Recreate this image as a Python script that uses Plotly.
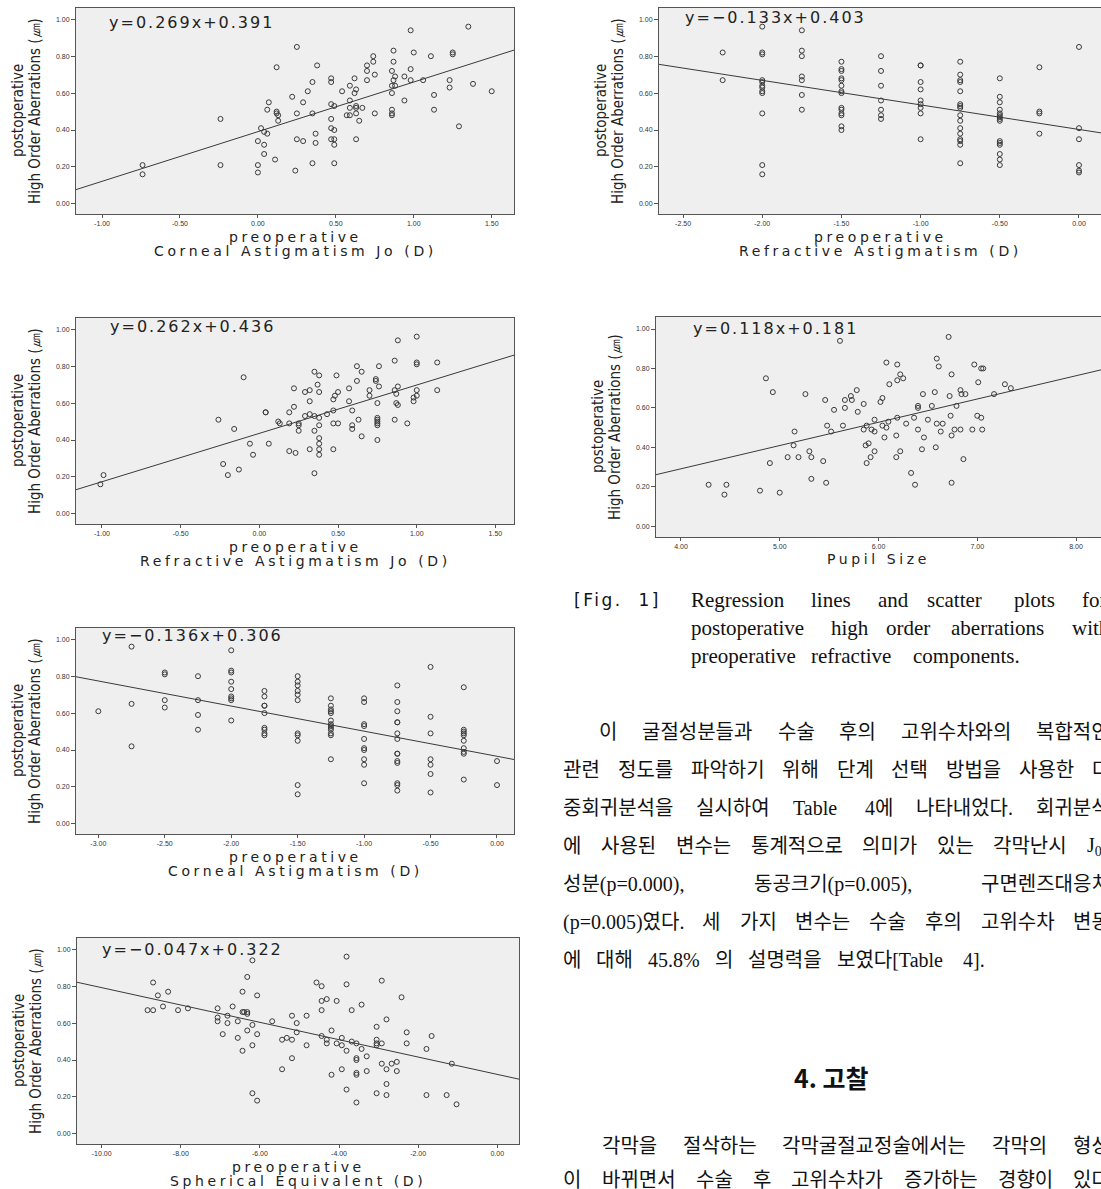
import plotly.graph_objects as go

W, H = 1101, 1189

# ---------------- data ----------------
# Plot 1: preoperative Corneal Astigmatism Jo (D)
p1_x = [-0.74, -0.74, -0.24, -0.24, 0.00, 0.00, 0.00, 0.02,
        0.04, 0.06, 0.04, 0.04, 0.11, 0.07, 0.06, 0.12,
        0.12, 0.13, 0.13, 0.12, 0.22, 0.25, 0.25, 0.25,
        0.24, 0.29, 0.29, 0.32, 0.35, 0.35, 0.35, 0.38,
        0.37, 0.37, 0.47, 0.47, 0.47, 0.49, 0.47, 0.47,
        0.49, 0.47, 0.49, 0.49, 0.49, 0.54, 0.59, 0.59,
        0.59, 0.57, 0.59, 0.62, 0.62, 0.63, 0.63, 0.63,
        0.63, 0.65, 0.67, 0.63, 0.70, 0.70, 0.70, 0.74,
        0.74, 0.75, 0.75, 0.87, 0.87, 0.86, 0.88, 0.87,
        0.86, 0.88, 0.86, 0.86, 0.86, 0.86, 0.94, 0.94,
        0.98, 0.98, 0.98, 1.00, 1.06, 1.11, 1.13, 1.13,
        1.23, 1.23, 1.25, 1.25, 1.29, 1.35, 1.38, 1.50]
p1_y = [0.21, 0.16, 0.46, 0.21, 0.21, 0.17, 0.34, 0.41,
        0.39, 0.38, 0.32, 0.27, 0.24, 0.55, 0.51, 0.50,
        0.49, 0.48, 0.45, 0.74, 0.58, 0.85, 0.49, 0.35,
        0.18, 0.55, 0.34, 0.61, 0.66, 0.49, 0.22, 0.75,
        0.38, 0.33, 0.68, 0.66, 0.54, 0.53, 0.46, 0.41,
        0.40, 0.35, 0.35, 0.32, 0.22, 0.61, 0.64, 0.56,
        0.52, 0.48, 0.48, 0.68, 0.60, 0.62, 0.53, 0.52,
        0.49, 0.45, 0.52, 0.35, 0.75, 0.72, 0.67, 0.80,
        0.77, 0.70, 0.49, 0.83, 0.77, 0.72, 0.69, 0.67,
        0.64, 0.64, 0.60, 0.51, 0.49, 0.48, 0.69, 0.56,
        0.94, 0.73, 0.67, 0.82, 0.67, 0.80, 0.59, 0.51,
        0.67, 0.63, 0.82, 0.81, 0.42, 0.96, 0.65, 0.61]

# Plot 2: preoperative Refractive Astigmatism (D)
p2_x = [-2.25, -2.25,
        -2.00, -2.00, -2.00, -2.00, -2.00, -2.00, -2.00, -2.00, -2.00, -2.00, -2.00, -2.00,
        -1.75, -1.75, -1.75, -1.75, -1.75, -1.75, -1.75,
        -1.50, -1.50, -1.50, -1.50, -1.50, -1.50, -1.50, -1.50, -1.50, -1.50, -1.50, -1.50, -1.50, -1.50,
        -1.25, -1.25, -1.25, -1.25, -1.25, -1.25, -1.25,
        -1.00, -1.00, -1.00, -1.00, -1.00, -1.00, -1.00, -1.00, -1.00,
        -0.75, -0.75, -0.75, -0.75, -0.75, -0.75, -0.75, -0.75, -0.75, -0.75, -0.75, -0.75, -0.75, -0.75, -0.75, -0.75,
        -0.50, -0.50, -0.50, -0.50, -0.50, -0.50, -0.50, -0.50, -0.50, -0.50, -0.50, -0.50, -0.50, -0.50, -0.50,
        -0.25, -0.25, -0.25, -0.25,
        0.00, 0.00, 0.00, 0.00, 0.00, 0.00]
p2_y = [0.82, 0.67,
        0.96, 0.82, 0.81, 0.67, 0.66, 0.64, 0.63, 0.61, 0.60, 0.49, 0.21, 0.16,
        0.94, 0.83, 0.80, 0.69, 0.67, 0.59, 0.51,
        0.77, 0.73, 0.72, 0.68, 0.67, 0.64, 0.61, 0.60, 0.52, 0.51, 0.49, 0.48, 0.42, 0.40,
        0.80, 0.72, 0.64, 0.56, 0.51, 0.48, 0.46,
        0.75, 0.75, 0.66, 0.62, 0.56, 0.54, 0.52, 0.49, 0.35,
        0.77, 0.70, 0.67, 0.66, 0.61, 0.54, 0.53, 0.52, 0.48, 0.45, 0.41, 0.38, 0.35, 0.34, 0.32, 0.22,
        0.68, 0.58, 0.55, 0.51, 0.49, 0.48, 0.47, 0.46, 0.45, 0.34, 0.33, 0.32, 0.27, 0.24, 0.21,
        0.74, 0.50, 0.49, 0.38,
        0.85, 0.41, 0.35, 0.21, 0.18, 0.17]

# Plot 3: preoperative Refractive Astigmatism Jo (D)
p3_x = [-1.01, -0.99, -0.26, -0.16, -0.23, -0.20, -0.13, -0.10,
        -0.06, -0.04, 0.04, 0.04, 0.06, 0.12, 0.13, 0.19,
        0.19, 0.19, 0.22, 0.22, 0.23, 0.25, 0.25, 0.25,
        0.29, 0.29, 0.32, 0.32, 0.32, 0.32, 0.35, 0.35,
        0.35, 0.35, 0.37, 0.38, 0.38, 0.38, 0.38, 0.38,
        0.38, 0.38, 0.38, 0.43, 0.47, 0.47, 0.48, 0.47,
        0.47, 0.49, 0.50, 0.50, 0.57, 0.57, 0.59, 0.59,
        0.59, 0.62, 0.62, 0.63, 0.65, 0.65, 0.70, 0.70,
        0.74, 0.74, 0.75, 0.75, 0.75, 0.75, 0.75, 0.75,
        0.75, 0.76, 0.76, 0.86, 0.86, 0.86, 0.87, 0.87,
        0.88, 0.88, 0.88, 0.94, 0.98, 0.98, 1.00, 1.00,
        1.00, 1.00, 1.00, 1.13, 1.13]
p3_y = [0.16, 0.21, 0.51, 0.46, 0.27, 0.21, 0.24, 0.74,
        0.38, 0.32, 0.55, 0.55, 0.38, 0.50, 0.49, 0.55,
        0.49, 0.34, 0.68, 0.58, 0.33, 0.49, 0.48, 0.45,
        0.66, 0.53, 0.67, 0.61, 0.54, 0.35, 0.77, 0.53,
        0.45, 0.22, 0.70, 0.75, 0.66, 0.52, 0.48, 0.41,
        0.38, 0.35, 0.32, 0.54, 0.62, 0.35, 0.64, 0.49,
        0.56, 0.75, 0.66, 0.49, 0.68, 0.61, 0.56, 0.48,
        0.46, 0.80, 0.72, 0.51, 0.77, 0.42, 0.67, 0.64,
        0.73, 0.72, 0.52, 0.51, 0.50, 0.49, 0.48, 0.60,
        0.40, 0.80, 0.69, 0.83, 0.67, 0.51, 0.65, 0.60,
        0.94, 0.69, 0.59, 0.49, 0.63, 0.61, 0.96, 0.82,
        0.81, 0.67, 0.64, 0.82, 0.67]

# Plot 4: Pupil Size
p4_x = [4.28, 4.44, 4.46, 4.80, 4.86, 4.90, 4.93, 5.00, 5.08, 5.14,
        5.15, 5.19, 5.26, 5.30, 5.32, 5.32, 5.44, 5.46, 5.47, 5.48,
        5.52, 5.55, 5.61, 5.64, 5.66, 5.66, 5.72, 5.73, 5.78, 5.79,
        5.85, 5.85, 5.87, 5.88, 5.88, 5.90, 5.92, 5.93, 5.96, 5.96,
        5.96, 6.02, 6.04, 6.04, 6.06, 6.08, 6.08, 6.10, 6.11, 6.18,
        6.18, 6.19, 6.19, 6.19, 6.22, 6.22, 6.25, 6.28, 6.33, 6.36,
        6.37, 6.40, 6.40, 6.40, 6.44, 6.45, 6.46, 6.50, 6.54, 6.57,
        6.58, 6.59, 6.59, 6.61, 6.63, 6.65, 6.71, 6.72, 6.73, 6.74,
        6.74, 6.74, 6.77, 6.79, 6.83, 6.83, 6.84, 6.86, 6.88, 6.95,
        6.97, 7.00, 7.01, 7.04, 7.04, 7.06, 7.05, 7.17, 7.28, 7.34]
p4_y = [0.21, 0.16, 0.21, 0.18, 0.75, 0.32, 0.68, 0.17, 0.35, 0.41,
        0.48, 0.35, 0.67, 0.38, 0.35, 0.24, 0.33, 0.64, 0.22, 0.51,
        0.48, 0.59, 0.94, 0.51, 0.64, 0.60, 0.66, 0.64, 0.69, 0.58,
        0.62, 0.49, 0.41, 0.51, 0.32, 0.42, 0.35, 0.49, 0.54, 0.48,
        0.38, 0.63, 0.65, 0.51, 0.45, 0.83, 0.50, 0.53, 0.72, 0.46,
        0.35, 0.82, 0.74, 0.55, 0.77, 0.38, 0.75, 0.52, 0.27, 0.55,
        0.21, 0.61, 0.60, 0.49, 0.39, 0.67, 0.45, 0.54, 0.61, 0.68,
        0.40, 0.85, 0.52, 0.81, 0.48, 0.52, 0.96, 0.66, 0.56, 0.46,
        0.22, 0.77, 0.49, 0.61, 0.69, 0.49, 0.67, 0.34, 0.67, 0.49,
        0.82, 0.56, 0.73, 0.55, 0.80, 0.80, 0.49, 0.67, 0.72, 0.70]

# Plot 5: preoperative Corneal Astigmatism (D)
p5_x = [-3.00,
        -2.75, -2.75, -2.75,
        -2.50, -2.50, -2.50, -2.50,
        -2.25, -2.25, -2.25, -2.25,
        -2.00, -2.00, -2.00, -2.00, -2.00, -2.00, -2.00, -2.00, -2.00,
        -1.75, -1.75, -1.75, -1.75, -1.75, -1.75, -1.75, -1.75, -1.75,
        -1.50, -1.50, -1.50, -1.50, -1.50, -1.50, -1.50, -1.50, -1.50, -1.50, -1.50,
        -1.25, -1.25, -1.25, -1.25, -1.25, -1.25, -1.25, -1.25, -1.25, -1.25, -1.25, -1.25, -1.25,
        -1.00, -1.00, -1.00, -1.00, -1.00, -1.00, -1.00, -1.00, -1.00, -1.00,
        -0.75, -0.75, -0.75, -0.75, -0.75, -0.75, -0.75, -0.75, -0.75, -0.75, -0.75, -0.75, -0.75, -0.75,
        -0.50, -0.50, -0.50, -0.50, -0.50, -0.50, -0.50,
        -0.25, -0.25, -0.25, -0.25, -0.25, -0.25, -0.25, -0.25, -0.25, -0.25,
        0.00, 0.00]
p5_y = [0.61,
        0.96, 0.65, 0.42,
        0.82, 0.81, 0.67, 0.63,
        0.80, 0.67, 0.59, 0.51,
        0.94, 0.83, 0.82, 0.77, 0.73, 0.69, 0.68, 0.67, 0.56,
        0.72, 0.69, 0.64, 0.64, 0.60, 0.52, 0.51, 0.49, 0.48,
        0.80, 0.77, 0.75, 0.72, 0.70, 0.67, 0.49, 0.48, 0.45, 0.21, 0.16,
        0.68, 0.64, 0.62, 0.61, 0.60, 0.56, 0.54, 0.53, 0.52, 0.51, 0.49, 0.48, 0.35,
        0.68, 0.66, 0.54, 0.53, 0.46, 0.41, 0.40, 0.35, 0.32, 0.22,
        0.75, 0.66, 0.61, 0.55, 0.55, 0.49, 0.46, 0.38, 0.38, 0.34, 0.33, 0.22, 0.21, 0.18,
        0.85, 0.58, 0.49, 0.35, 0.32, 0.27, 0.17,
        0.74, 0.51, 0.50, 0.49, 0.48, 0.45, 0.41, 0.39, 0.38, 0.24,
        0.34, 0.21]

# Plot 6: preoperative Spherical Equivalent (D)
p6_x = [-8.84, -8.70, -8.70, -8.58, -8.45, -8.32, -8.07, -7.82, -7.07, -7.07,
        -7.07, -6.94, -6.82, -6.82, -6.69, -6.56, -6.56, -6.44, -6.44, -6.44,
        -6.40, -6.32, -6.32, -6.32, -6.32, -6.19, -6.19, -6.19, -6.19, -6.07,
        -6.07, -6.07, -5.69, -5.44, -5.44, -5.32, -5.19, -5.19, -5.19, -5.07,
        -5.07, -4.82, -4.82, -4.57, -4.44, -4.44, -4.44, -4.44, -4.31, -4.31,
        -4.31, -4.19, -4.19, -4.06, -4.06, -3.93, -3.93, -3.93, -3.81, -3.81,
        -3.81, -3.81, -3.68, -3.68, -3.56, -3.56, -3.56, -3.56, -3.56, -3.56,
        -3.43, -3.43, -3.30, -3.30, -3.05, -3.05, -3.05, -3.05, -3.05, -2.92,
        -2.92, -2.92, -2.80, -2.80, -2.80, -2.80, -2.67, -2.54, -2.54, -2.42,
        -2.29, -2.29, -1.79, -1.79, -1.66, -1.28, -1.15, -1.03]
p6_y = [0.67, 0.67, 0.82, 0.75, 0.69, 0.77, 0.67, 0.68, 0.68, 0.63,
        0.61, 0.54, 0.64, 0.60, 0.69, 0.61, 0.52, 0.77, 0.66, 0.45,
        0.66, 0.85, 0.66, 0.65, 0.56, 0.94, 0.59, 0.48, 0.22, 0.75,
        0.54, 0.18, 0.61, 0.35, 0.51, 0.52, 0.64, 0.51, 0.41, 0.55,
        0.60, 0.64, 0.48, 0.82, 0.80, 0.72, 0.67, 0.53, 0.73, 0.51,
        0.49, 0.32, 0.56, 0.72, 0.49, 0.48, 0.52, 0.35, 0.96, 0.81,
        0.45, 0.24, 0.67, 0.50, 0.49, 0.41, 0.40, 0.33, 0.32, 0.17,
        0.70, 0.46, 0.42, 0.34, 0.58, 0.51, 0.49, 0.48, 0.22, 0.83,
        0.49, 0.38, 0.62, 0.35, 0.27, 0.21, 0.38, 0.39, 0.34, 0.74,
        0.55, 0.49, 0.46, 0.21, 0.53, 0.21, 0.38, 0.16]

# regression lines as drawn (slope, intercept) and the printed equations
fit_slope = [0.269, -0.133, 0.262, 0.118, -0.136, -0.047]
fit_icept = [0.391, 0.403, 0.436, -0.181, 0.366, 0.322]
eq_text = ["y=0.269x+0.391", "y=\u22120.133x+0.403", "y=0.262x+0.436",
           "y=0.118x+0.181", "y=\u22120.136x+0.306", "y=\u22120.047x+0.322"]

x_title1 = ["preoperative", "preoperative", "preoperative", None, "preoperative", "preoperative"]
x_title2 = ["Corneal Astigmatism Jo (D)", "Refractive Astigmatism (D)",
            "Refractive Astigmatism Jo (D)", "Pupil Size",
            "Corneal Astigmatism (D)", "Spherical Equivalent (D)"]
y_title1 = "postoperative"
y_title2 = "High Order Aberrations (\u339b)"

x_ticks = [[-1.0, -0.5, 0.0, 0.5, 1.0, 1.5],
           [-2.5, -2.0, -1.5, -1.0, -0.5, 0.0],
           [-1.0, -0.5, 0.0, 0.5, 1.0, 1.5],
           [4.0, 5.0, 6.0, 7.0, 8.0],
           [-3.0, -2.5, -2.0, -1.5, -1.0, -0.5, 0.0],
           [-10.0, -8.0, -6.0, -4.0, -2.0, 0.0]]
y_ticks = [0.0, 0.2, 0.4, 0.6, 0.8, 1.0]

xs = [p1_x, p2_x, p3_x, p4_x, p5_x, p6_x]
ys = [p1_y, p2_y, p3_y, p4_y, p5_y, p6_y]

# ---------------- layout geometry (pixels) ----------------
geo = [dict(L=76, R=514, T=8, B=214),
       dict(L=659, R=1101, T=8, B=214),
       dict(L=76, R=514, T=318, B=524),
       dict(L=656, R=1101, T=317, B=537),
       dict(L=76, R=514, T=628, B=834),
       dict(L=77, R=519, T=938, B=1144)]
x_ranges = [[-1.167, 1.643], [-2.652, 0.139], [-1.165, 1.618],
            [3.747, 8.253], [-3.168, 0.128], [-10.624, 0.549]]
y_range = [-0.055, 1.061]
eq_off = [(31, 14), (24, 10), (32, 8), (35, 11), (24, 8), (23, 11)]


def px(x):
    return x / W


def py(y):
    return 1 - y / H


def spaced(s, ls):
    return '<span style="letter-spacing:%.1fpx">%s</span>' % (ls, s)


fig = go.Figure()
annotations = []
TICKFONT = dict(family="Liberation Sans, Arial, sans-serif", size=7, color="#333333")
NARROW = "Liberation Sans Narrow, DejaVu Sans Condensed, Arial Narrow, sans-serif"
WIDE = "DejaVu Sans, Verdana, sans-serif"

layout_axes = {}
for i in range(6):
    n = "" if i == 0 else str(i + 1)
    xa, ya = "x" + n, "y" + n
    g = geo[i]
    xr = x_ranges[i]
    fig.add_trace(go.Scatter(
        x=xs[i], y=ys[i], mode="markers", xaxis=xa, yaxis=ya,
        marker=dict(symbol="circle-open", size=5, color="#3a3a3a", line=dict(width=1)),
        showlegend=False, hoverinfo="skip"))
    lx = [xr[0], xr[1]]
    ly = [fit_slope[i] * v + fit_icept[i] for v in lx]
    fig.add_trace(go.Scatter(
        x=lx, y=ly, mode="lines", xaxis=xa, yaxis=ya,
        line=dict(color="#3a3a3a", width=1), showlegend=False, hoverinfo="skip"))

    layout_axes["xaxis" + n] = dict(
        domain=[px(g["L"]), px(g["R"])], range=xr, anchor=ya,
        tickvals=x_ticks[i], ticktext=["%.2f" % v for v in x_ticks[i]],
        ticks="outside", ticklen=3, tickcolor="#555", tickwidth=1,
        showline=True, linecolor="#555", linewidth=1, mirror=True,
        showgrid=False, zeroline=False, tickfont=TICKFONT)
    layout_axes["yaxis" + n] = dict(
        domain=[py(g["B"]), py(g["T"])], range=y_range, anchor=xa,
        tickvals=y_ticks, ticktext=["%.2f" % v for v in y_ticks],
        ticks="outside", ticklen=4, tickcolor="#555", tickwidth=1,
        showline=True, linecolor="#555", linewidth=1, mirror=True,
        showgrid=False, zeroline=False, tickfont=TICKFONT)

    cx = (g["L"] + g["R"]) / 2
    cy = (g["T"] + g["B"]) / 2
    # x-axis titles
    if x_title1[i]:
        annotations.append(dict(x=px(cx), y=py(g["B"] + 22.5), xref="paper", yref="paper",
                                text=spaced(x_title1[i], 3.6), showarrow=False,
                                xanchor="center", yanchor="middle",
                                font=dict(family=WIDE, size=14, color="#222")))
        annotations.append(dict(x=px(cx), y=py(g["B"] + 37), xref="paper", yref="paper",
                                text=spaced(x_title2[i], 3.6), showarrow=False,
                                xanchor="center", yanchor="middle",
                                font=dict(family=WIDE, size=14, color="#222")))
    else:
        annotations.append(dict(x=px(cx), y=py(g["B"] + 22), xref="paper", yref="paper",
                                text=spaced(x_title2[i], 3.6), showarrow=False,
                                xanchor="center", yanchor="middle",
                                font=dict(family=WIDE, size=14, color="#222")))
    # y-axis titles
    annotations.append(dict(x=px(g["L"] - 58), y=py(cy), xref="paper", yref="paper",
                            text=y_title1, showarrow=False, textangle=-90,
                            xanchor="center", yanchor="middle",
                            font=dict(family=NARROW, size=15, color="#222")))
    annotations.append(dict(x=px(g["L"] - 41), y=py(cy), xref="paper", yref="paper",
                            text=y_title2, showarrow=False, textangle=-90,
                            xanchor="center", yanchor="middle",
                            font=dict(family=NARROW, size=15, color="#222")))
    # equation
    dx, dy = eq_off[i]
    annotations.append(dict(x=px(g["L"] + dx), y=py(g["T"] + dy), xref="paper", yref="paper",
                            text=spaced(eq_text[i], 2.0), showarrow=False,
                            xanchor="left", yanchor="middle",
                            font=dict(family=WIDE, size=16, color="#222")))

# ---------------- right-hand text column ----------------
SERIF_KR = "Liberation Serif, Noto Sans CJK KR, serif"


def est_width(s, size):
    import re
    s = re.sub(r"<[^>]+>", "", s)
    w = 0.0
    for ch in s:
        if "\uac00" <= ch <= "\ud7a3":
            w += 0.92
        elif ch == " ":
            w += 0.25
        elif ch in ".,:;":
            w += 0.25
        elif ch in "()[]":
            w += 0.333
        elif ch == "%":
            w += 0.833
        elif ch == "=":
            w += 0.564
        elif ch.isdigit():
            w += 0.5
        elif ch.isupper():
            w += 0.67
        else:
            w += 0.45
    return w * size


def place_line(text, x0, x1, yc, size, family, justify=True, gap_nat=10):
    words = text.split(" ")
    widths = [est_width(w, size) for w in words]
    if justify and len(words) > 1:
        gap = (x1 - x0 - sum(widths)) / (len(words) - 1)
    else:
        gap = gap_nat
    x = x0
    for w, wd in zip(words, widths):
        annotations.append(dict(x=px(x), y=py(yc), xref="paper", yref="paper", text=w,
                                showarrow=False, xanchor="left", yanchor="middle",
                                font=dict(family=family, size=size, color="#111")))
        x += wd + gap


caption_label = "[Fig.  1]"
caption_lines = ["Regression lines and scatter plots for",
                 "postoperative high order aberrations with",
                 "preoperative refractive components."]
para1 = ["이 굴절성분들과 수술 후의 고위수차와의 복합적인",
         "관련 정도를 파악하기 위해 단계 선택 방법을 사용한 다",
         "중회귀분석을 실시하여 Table 4에 나타내었다. 회귀분석",
         "에 사용된 변수는 통계적으로 의미가 있는 각막난시 J<sub>0</sub>",
         "성분(p=0.000), 동공크기(p=0.005), 구면렌즈대응치",
         "(p=0.005)였다. 세 가지 변수는 수술 후의 고위수차 변동",
         "에 대해 45.8% 의 설명력을 보였다[Table 4]."]
heading = "4. 고찰"
para2 = ["각막을 절삭하는 각막굴절교정술에서는 각막의 형상",
         "이 바뀌면서 수술 후 고위수차가 증가하는 경향이 있다"]

annotations.append(dict(x=px(572), y=py(600), xref="paper", yref="paper",
                        text=spaced(caption_label, 2.5),
                        showarrow=False, xanchor="left", yanchor="middle",
                        font=dict(family=WIDE, size=17, color="#111")))
cap_y = [600, 628, 656]
for k, line in enumerate(caption_lines):
    place_line(line, 689, 1108, cap_y[k], 21, "Liberation Serif, Times New Roman, serif",
               justify=(k < len(caption_lines) - 1), gap_nat=7)

p1_ys = [732, 770, 808, 846, 884, 922, 960]
for k, line in enumerate(para1):
    x0 = 597 if k == 0 else 561
    place_line(line, x0, 1108, p1_ys[k], 20, SERIF_KR,
               justify=(k < len(para1) - 1), gap_nat=15)

annotations.append(dict(x=px(832), y=py(1077), xref="paper", yref="paper", text="<b>" + heading + "</b>",
                        showarrow=False, xanchor="center", yanchor="middle",
                        font=dict(family="Noto Sans CJK KR, sans-serif", size=25, color="#111")))

p2_ys = [1146, 1180]
for k, line in enumerate(para2):
    x0 = 600 if k == 0 else 561
    place_line(line, x0, 1108, p2_ys[k], 20, SERIF_KR, justify=True)

fig.update_layout(
    width=W, height=H, margin=dict(l=0, r=0, t=0, b=0),
    paper_bgcolor="white", plot_bgcolor="#efefef", showlegend=False,
    annotations=annotations, **layout_axes)

fig.write_html("out.html", config={"displayModeBar": False},
               post_script="document.body.style.margin='0px';document.body.style.overflow='hidden';")
